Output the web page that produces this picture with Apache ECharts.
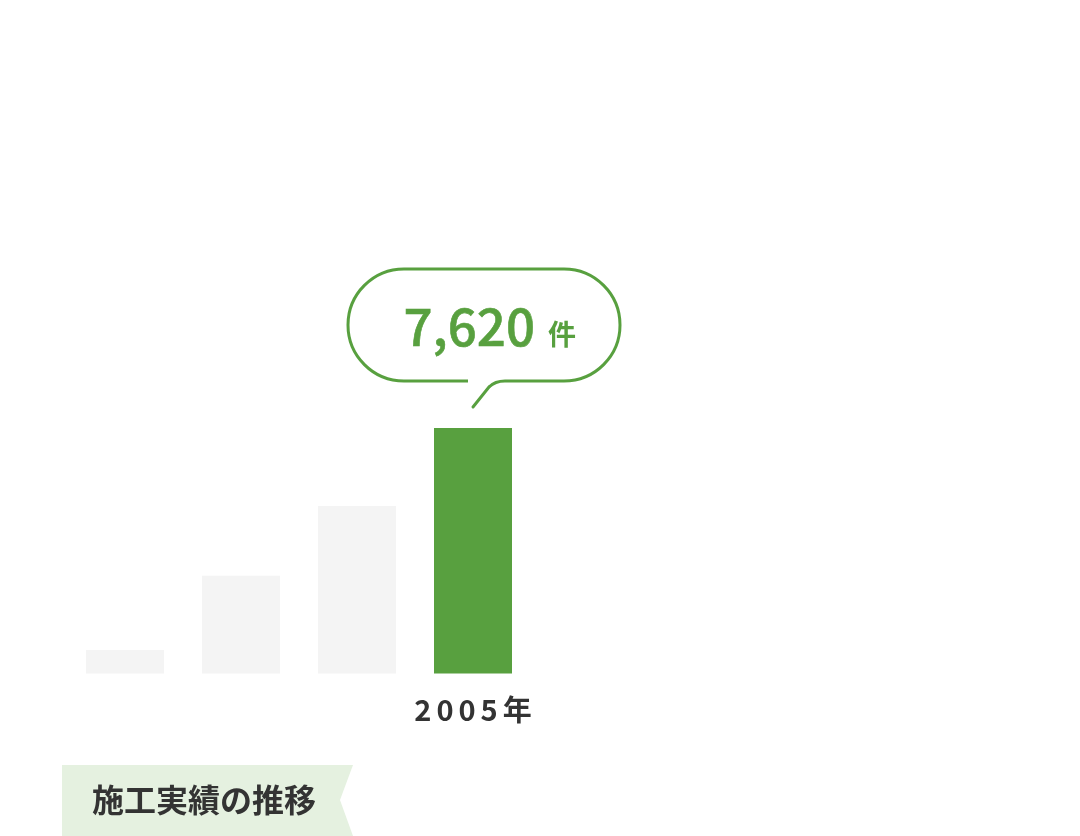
<!DOCTYPE html>
<html><head><meta charset="utf-8">
<script src="https://cdn.jsdelivr.net/npm/echarts@6/dist/echarts.min.js"></script>
<style>html,body{margin:0;padding:0;background:#fff}#c{width:1080px;height:836px}</style>
</head><body><div id="c"></div>
<script>
const years = ['1990年', '1995年', '2000年', '2005年'];
const counts = [730, 3030, 5200, 7620];
const highlightIndex = 3;
const unitLabel = '件';
const chartTitle = '施工実績の推移';

const GREEN = '#58a03f', GRAY = '#f4f4f4', DARK = '#333333';
const FONT = '"Noto Sans CJK JP", "Noto Sans", sans-serif';
const chart = echarts.init(document.getElementById('c'));
function fmt(n) { return n.toLocaleString('en-US'); }

chart.setOption({
  animation: false,
  backgroundColor: '#fff',
  title: {
    text: chartTitle, left: 92, top: 784, padding: 0,
    textStyle: { fontFamily: FONT, fontWeight: 'bold', fontSize: 32, color: DARK, lineHeight: 32 }
  },
  graphic: [{
    type: 'polygon', z: -1,
    shape: { points: [[62, 765], [353, 765], [340, 800], [353, 836], [62, 836]] },
    style: { fill: '#e5f1e0' }
  }],
  grid: { left: 67, right: 549, top: 351.3, bottom: 162.5 },
  xAxis: {
    type: 'category', data: years,
    axisLine: { show: false }, axisTick: { show: false },
    axisLabel: {
      interval: 0, margin: 22,
      formatter: (v, i) => i === highlightIndex ? v.split('').map(c => '{a|' + c + '}').join('') : '',
      rich: { a: { fontFamily: FONT, fontWeight: 'bold', fontSize: 29, color: DARK, padding: [0, 2.5, 0, 2.5] } }
    }
  },
  yAxis: { type: 'value', min: 0, max: 10000, show: false },
  series: [
    {
      type: 'bar', barWidth: 78, silent: true,
      data: counts.map((v, i) => ({ value: v, itemStyle: { color: i === highlightIndex ? GREEN : GRAY } }))
    },
    {
      type: 'custom', clip: false, silent: true, z: 5,
      data: [[highlightIndex, counts[highlightIndex]]],
      renderItem: (params, api) => {
        const v = api.value(1);
        const p = api.coord([api.value(0), v]);
        const x = p[0], y = p[1];
        const L = x - 125, R = x + 147, T = y - 159, B = y - 47;
        return {
          type: 'group',
          children: [
            { type: 'rect', shape: { x: L, y: T, width: R - L, height: B - T, r: 56 },
              style: { fill: '#fff', stroke: GREEN, lineWidth: 3 } },
            { type: 'rect', shape: { x: x - 5, y: B - 3, width: 37, height: 6 },
              style: { fill: '#fff' } },
            { type: 'bezierCurve', shape: { x1: x + 32, y1: B, cpx1: x + 22, cpy1: B, x2: x + 16, y2: B + 6 },
              style: { fill: 'none', stroke: GREEN, lineWidth: 3 } },
            { type: 'line', shape: { x1: x + 16, y1: B + 6, x2: x, y2: B + 26 },
              style: { stroke: GREEN, lineWidth: 3, lineCap: 'round' } },
            { type: 'text', x: x + 62, y: y - 101,
              style: { text: fmt(v), fill: GREEN, stroke: GREEN, lineWidth: 0.6, font: '500 51px ' + FONT, align: 'right', verticalAlign: 'middle' } },
            { type: 'text', x: x + 75, y: y - 94,
              style: { text: unitLabel, fill: GREEN, font: 'bold 28px ' + FONT, align: 'left', verticalAlign: 'middle' } }
          ]
        };
      }
    }
  ]
});
</script>
</body></html>
